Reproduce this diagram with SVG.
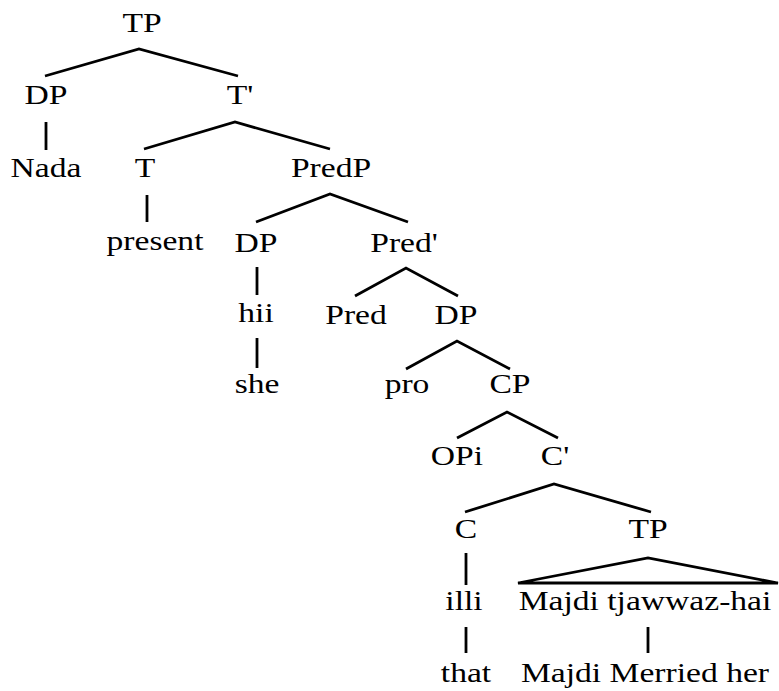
<svg xmlns="http://www.w3.org/2000/svg" width="779" height="691" viewBox="0 0 779 691">
<style>
text{font-family:"Liberation Serif","Times New Roman",serif;font-size:28px;fill:#000;text-anchor:middle}
.e{stroke:#000;stroke-width:2.8;fill:none;stroke-linecap:butt}
</style>
<rect width="779" height="691" fill="#fff"/>
<g id="connectors" class="e">
<path d="M45,76 L139,49 L238,76"/>
<path d="M46,122 V150"/>
<path d="M144,149 L235,122 L330,149"/>
<path d="M147,195 V222"/>
<path d="M256,222 L330,194 L408,222"/>
<path d="M257,267 V295"/>
<path d="M257,338 V368"/>
<path d="M355,296 L406,268 L458,296"/>
<path d="M406,369 L457,341 L510,369"/>
<path d="M457,438 L507,412 L558,438"/>
<path d="M465,512 L554,484 L651,512"/>
<path d="M466,553 V585"/>
<path d="M518,583 L648,558 L778,583 Z"/>
<path d="M466,627 V653"/>
<path d="M648,627 V653"/>
</g>
<g id="n1"><text transform="translate(142,32) scale(1.2,1)">TP</text></g>
<g id="n2"><text transform="translate(46,104) scale(1.2,1)">DP</text></g>
<g id="n3"><text transform="translate(240,104) scale(1.2,1)">T'</text></g>
<g id="n4"><text transform="translate(46,177) scale(1.2,1)">Nada</text></g>
<g id="n5"><text transform="translate(145,177) scale(1.2,1)">T</text></g>
<g id="n6"><text transform="translate(331,177) scale(1.2,1)">PredP</text></g>
<g id="n7"><text transform="translate(155,250) scale(1.2,1)">present</text></g>
<g id="n8"><text transform="translate(256,252) scale(1.2,1)">DP</text></g>
<g id="n9"><text transform="translate(404,252) scale(1.2,1)">Pred'</text></g>
<g id="n10"><text transform="translate(256,322) scale(1.2,1)">hii</text></g>
<g id="n11"><text transform="translate(257,393) scale(1.2,1)">she</text></g>
<g id="n12"><text transform="translate(356,324) scale(1.2,1)">Pred</text></g>
<g id="n13"><text transform="translate(456,324) scale(1.2,1)">DP</text></g>
<g id="n14"><text transform="translate(407,393) scale(1.2,1)">pro</text></g>
<g id="n15"><text transform="translate(510,393) scale(1.2,1)">CP</text></g>
<g id="n16"><text transform="translate(457,465) scale(1.2,1)">OPi</text></g>
<g id="n17"><text transform="translate(555,465) scale(1.2,1)">C'</text></g>
<g id="n18"><text transform="translate(466,538) scale(1.2,1)">C</text></g>
<g id="n19"><text transform="translate(648,538) scale(1.2,1)">TP</text></g>
<g id="n20"><text transform="translate(464,610) scale(1.2,1)">illi</text></g>
<g id="n21"><text transform="translate(645,610) scale(1.2,1)">Majdi tjawwaz-hai</text></g>
<g id="n22"><text transform="translate(466,682) scale(1.2,1)">that</text></g>
<g id="n23"><text transform="translate(645,682) scale(1.2,1)">Majdi Merried her</text></g>
</svg>
